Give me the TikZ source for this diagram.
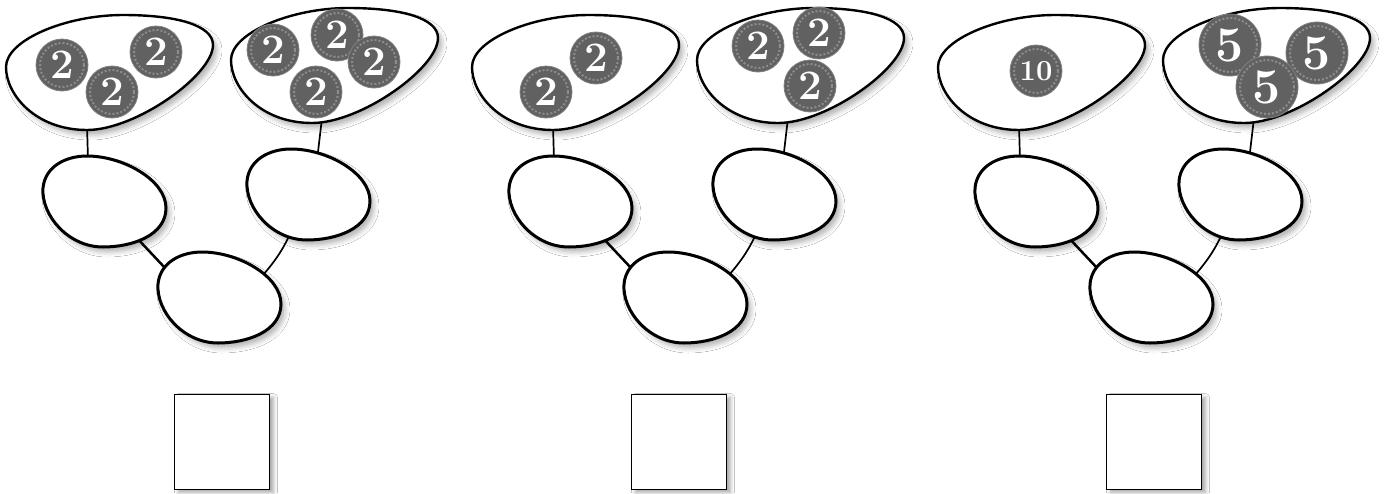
\documentclass[tikz,border=0pt]{standalone}
\usetikzlibrary{shadows.blur}
\begin{document}
\begin{tikzpicture}[x=1pt,y=-1pt,
  outline/.style={draw=black,line width=2.6pt,fill=white,
    blur shadow={shadow xshift=4pt,shadow yshift=-5pt,shadow blur radius=5pt,shadow opacity=30}},
  link/.style={draw=black,line width=2pt},
  thinlink/.style={draw=black,line width=1.7pt},
  answerbox/.style={rectangle,draw=black,line width=1.6pt,fill=white,minimum size=95pt,inner sep=0pt,
    blur shadow={shadow xshift=4pt,shadow yshift=-3pt,shadow blur radius=4pt,shadow opacity=35}},
  coin/.style={circle,fill=black!62,draw=black!50,line width=0.8pt,minimum size=52pt,inner sep=0pt,
    text=white,font=\fontsize{42}{42}\selectfont\bfseries,
    path picture={\draw[black!45,dotted,line width=2pt] (path picture bounding box.center) circle (22pt);}},
  bigcoin/.style={coin,minimum size=62pt,font=\fontsize{50}{50}\selectfont\bfseries,
    path picture={\draw[black!45,dotted,line width=2pt] (path picture bounding box.center) circle (27pt);}},
  tencoin/.style={coin,font=\fontsize{29}{29}\selectfont\bfseries}
]
\fill[white] (0,0) rectangle (1384,493);
\useasboundingbox (0,0) rectangle (1384,493);

\def\bagshape{(0,52) .. controls (0,25) and (60,0) .. (117,0)
  .. controls (170,0) and (207,10) .. (207,30)
  .. controls (207,60) and (130,115) .. (81,115)
  .. controls (30,115) and (0,80) .. (0,52) -- cycle}
\def\eggshape{(0,33) .. controls (2,12) and (22,1) .. (44,1)
  .. controls (80,1) and (123,25) .. (123,53)
  .. controls (123,80) and (90,92) .. (60,92)
  .. controls (25,92) and (-2,60) .. (0,33) -- cycle}

\newcommand\grp[3]{%
\begin{scope}[xshift=#1]
  \coordinate (#3b1) at (87,125);
  \coordinate (#3e1t) at (88,160);
  \coordinate (#3b2) at (322,118);
  \coordinate (#3e2t) at (318,152);
  \coordinate (#3e1b) at (135,236);
  \coordinate (#3e3l) at (166,269);
  \coordinate (#3e2b) at (292,230);
  \coordinate (#3e3r) at (263,275);
  \draw[thinlink] (#3b1) -- (#3e1t);
  \draw[thinlink] (#3b2) -- (#3e2t);
  \draw[link,line width=2.5pt] (#3e1b) -- (#3e3l);
  \draw[thinlink] (#3e2b) to[bend left=8] (#3e3r);
  \draw[outline,line width=2.4pt,shift={(6,15)}] \bagshape;
  \draw[outline,line width=2.4pt,shift={(231,8)}] \bagshape;
  \draw[outline,line width=3pt,shift={(43,155)}] \eggshape;
  \draw[outline,line width=3pt,shift={(247,148)}] \eggshape;
  \draw[outline,line width=3pt,shift={(158,251)}] \eggshape;
  \node[answerbox] (#3sq) at (#2,442) {};
\end{scope}}

\grp{0}{222}{A}
\grp{466}{213}{B}
\grp{932}{222}{C}

% coins group 1
\node[coin] (c1) at (62,65) {2};
\node[coin] (c2) at (112,92) {2};
\node[coin] (c3) at (156,52) {2};
\node[coin] (c4) at (273,50) {2};
\node[coin] (c5) at (337,35) {2};
\node[coin] (c6) at (374,62) {2};
\node[coin] (c7) at (316,92) {2};
% coins group 2
\node[coin] (c8) at (596,58) {2};
\node[coin] (c9) at (546,92) {2};
\node[coin] (c10) at (758,46) {2};
\node[coin] (c11) at (819,33) {2};
\node[coin] (c12) at (810,86) {2};
% coins group 3
\node[tencoin] (c13) at (1036,71) {10};
\node[bigcoin] (c14) at (1230,45) {5};
\node[bigcoin] (c15) at (1317,53) {5};
\node[bigcoin] (c16) at (1267,87) {5};
\end{tikzpicture}
\end{document}
